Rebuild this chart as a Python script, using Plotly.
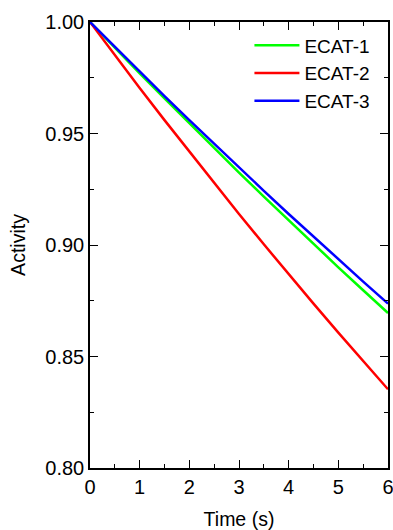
import plotly.graph_objects as go

time_s = [0, 0.5, 1, 1.5, 2, 2.5, 3, 3.5, 4, 4.5, 5, 5.5, 6]
ecat1 = [1.0, 0.9884, 0.9770, 0.9657, 0.9545, 0.9434, 0.9325, 0.9217, 0.9110, 0.9005, 0.8900, 0.8797, 0.8695]
ecat2 = [1.0, 0.9851, 0.9704, 0.9560, 0.9418, 0.9277, 0.9139, 0.9003, 0.8869, 0.8737, 0.8607, 0.8479, 0.8353]
ecat3 = [1.0, 0.9888, 0.9778, 0.9668, 0.9560, 0.9453, 0.9347, 0.9243, 0.9139, 0.9037, 0.8936, 0.8836, 0.8737]

series = [("ECAT-1", ecat1, "#00FF00"), ("ECAT-2", ecat2, "#FF0000"), ("ECAT-3", ecat3, "#0000FF")]

fig = go.Figure()
for name, vals, col in series:
    fig.add_trace(go.Scatter(x=time_s, y=vals, mode="lines", name=name,
                             line=dict(color=col, width=2.5)))

font = "Arial, Liberation Sans, sans-serif"
axis_common = dict(
    showline=True, linecolor="black", linewidth=1.5, mirror="allticks",
    ticks="inside", ticklen=8, tickwidth=1.2, tickcolor="black",
    showgrid=False, zeroline=False, automargin=False,
    ticklabeloverflow="allow",
    tickfont=dict(family=font, size=20, color="black"),
)
fig.update_layout(
    width=393, height=530,
    margin=dict(l=90, r=5, t=22, b=62),
    plot_bgcolor="white", paper_bgcolor="white",
    font=dict(family=font, size=20, color="black"),
    xaxis=dict(range=[0, 6], dtick=1, tick0=0,
               minor=dict(dtick=0.5, ticks="inside", ticklen=4, tickcolor="black", tickwidth=1.2),
               title=dict(text="Time (s)", font=dict(family=font, size=19.5), standoff=16),
               **axis_common),
    yaxis=dict(range=[0.80, 1.00], dtick=0.05, tick0=0.8, tickformat=".2f",
               minor=dict(dtick=0.025, ticks="inside", ticklen=4, tickcolor="black", tickwidth=1.2),
               title=dict(text="Activity", font=dict(family=font, size=19.5), standoff=14),
               **axis_common),
    legend=dict(x=0.535, y=0.99, xanchor="left", yanchor="top",
                bgcolor="rgba(0,0,0,0)", font=dict(family=font, size=19),
                itemwidth=45, tracegroupgap=0),
    showlegend=True,
)

fig.write_html("out.html")
